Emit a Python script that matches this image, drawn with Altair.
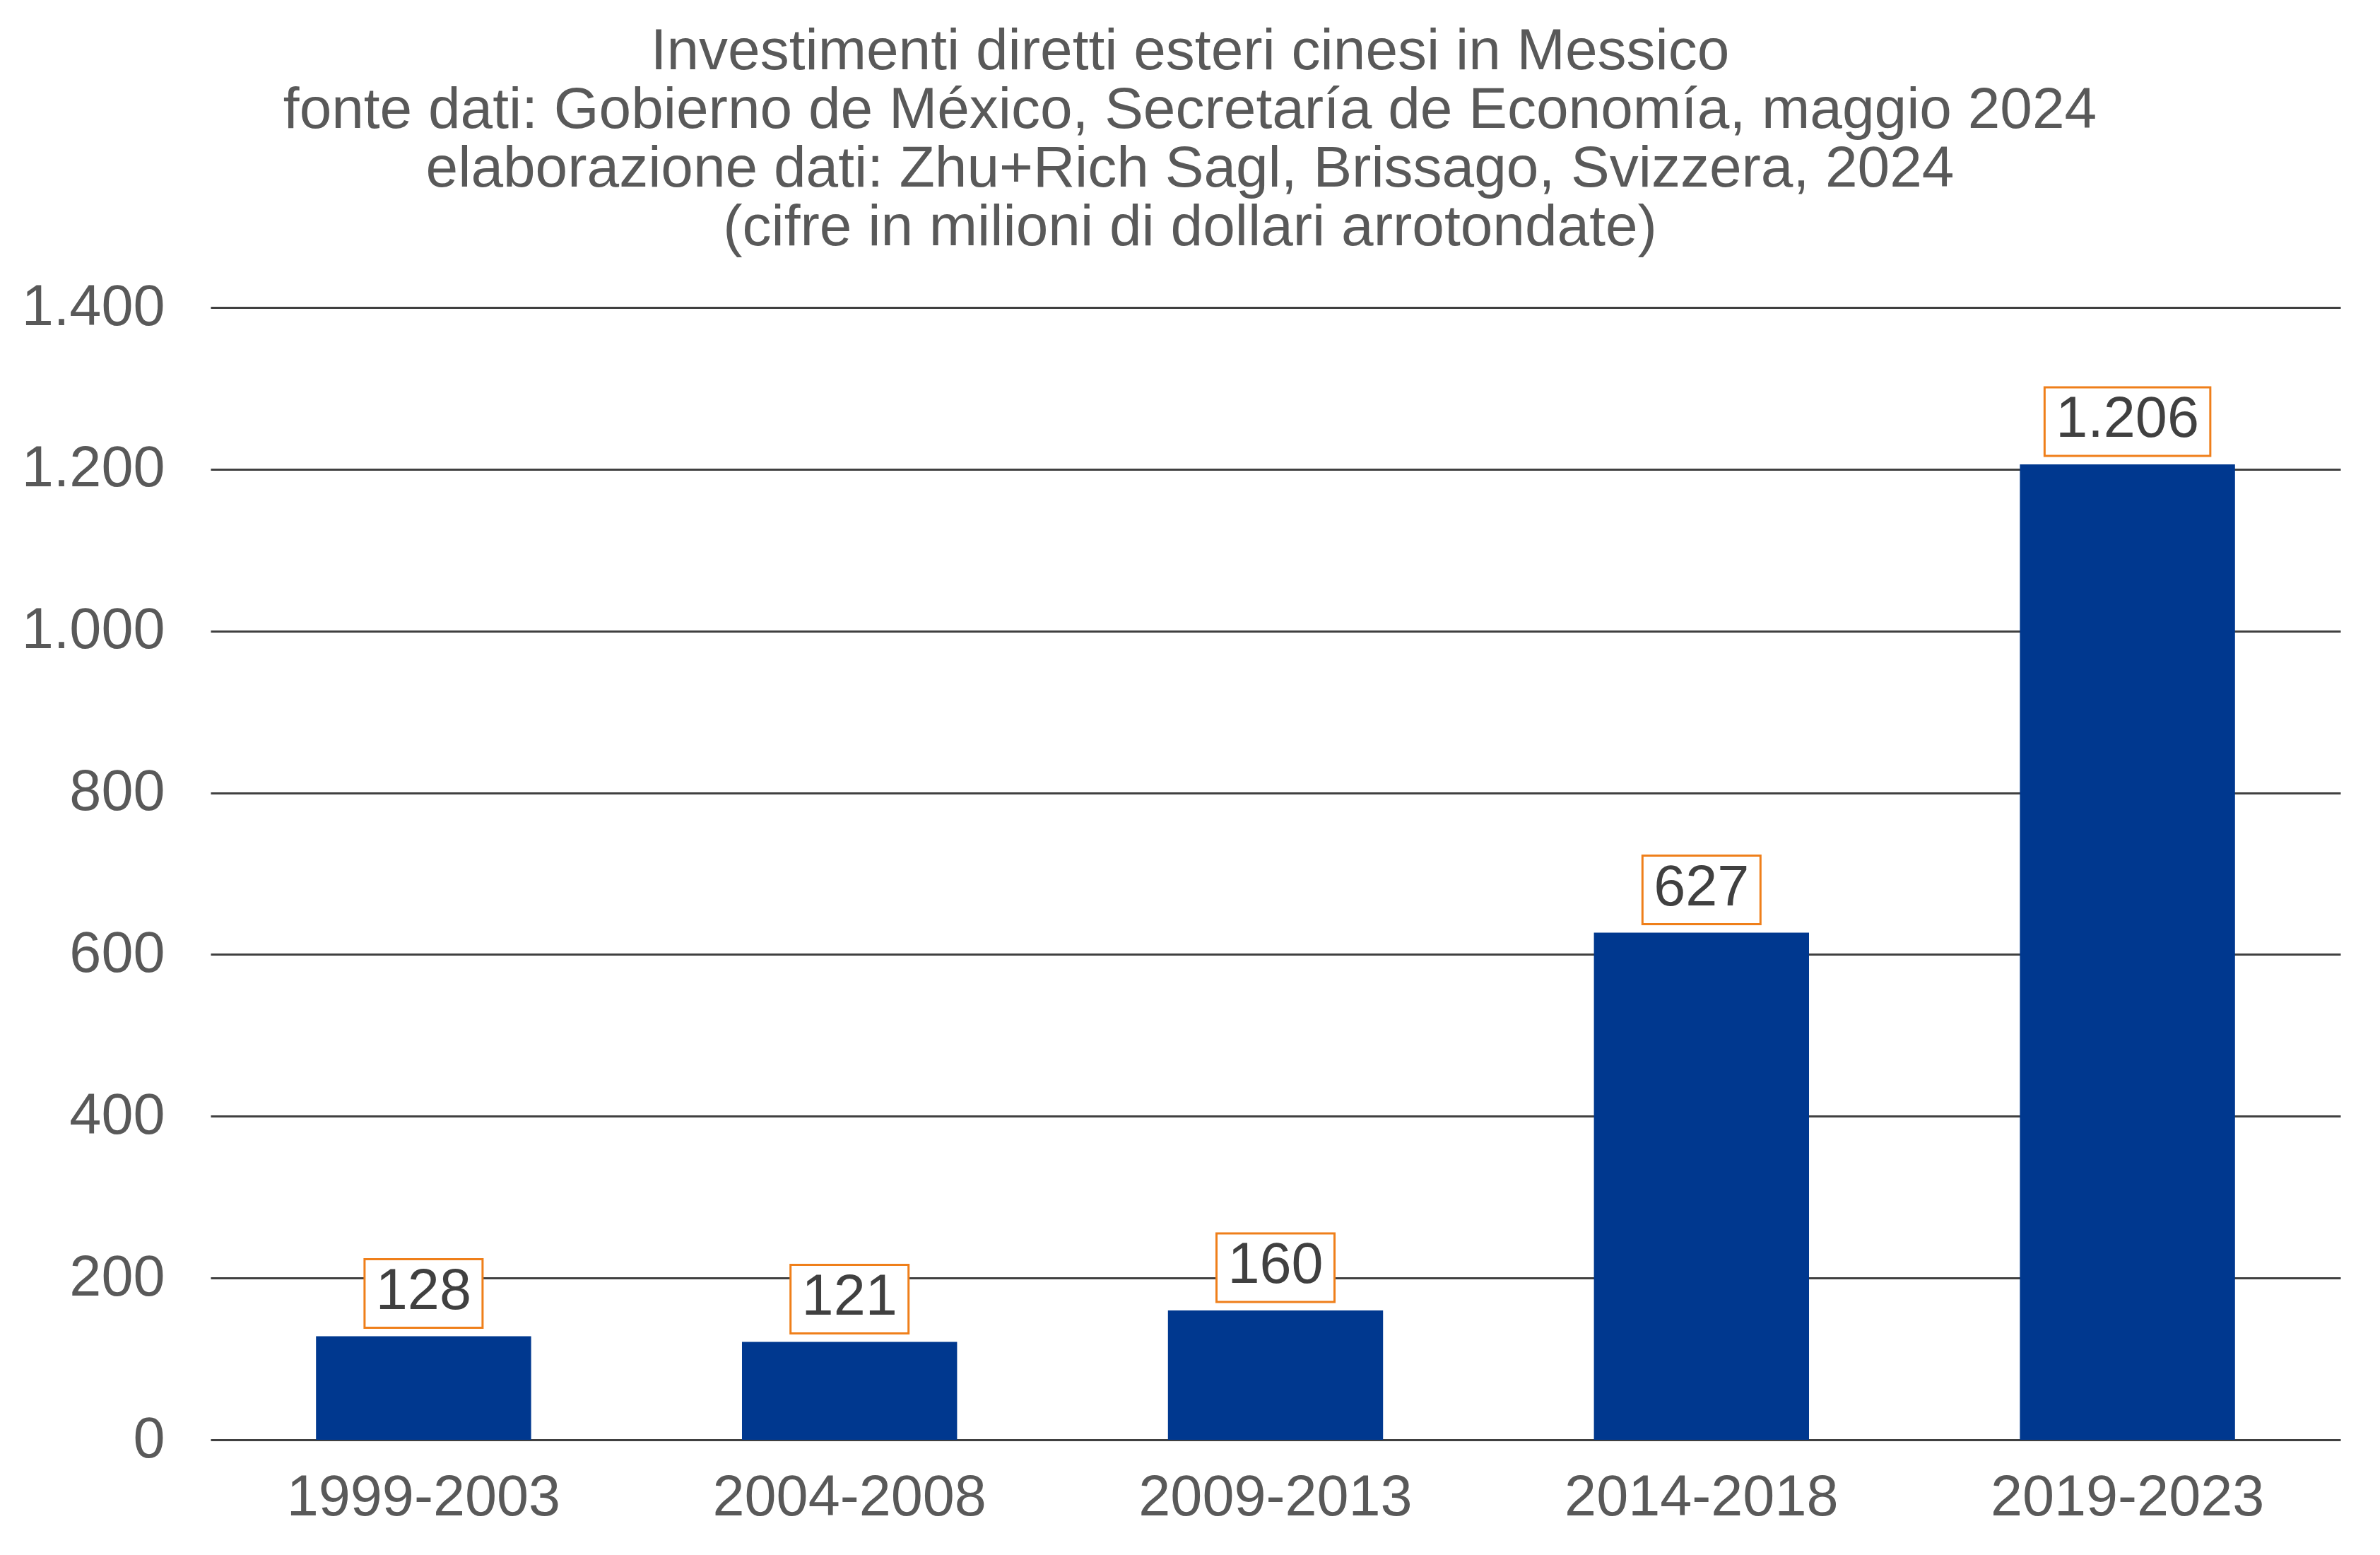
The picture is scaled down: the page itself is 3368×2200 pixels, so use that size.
import altair as alt
import pandas as pd

periods = ["1999-2003", "2004-2008", "2009-2013", "2014-2018", "2019-2023"]
values = [128, 121, 160, 627, 1206]
y_ticks = [0, 200, 400, 600, 800, 1000, 1200, 1400]
title_lines = [
    "Investimenti diretti esteri cinesi in Messico",
    "fonte dati: Gobierno de México, Secretaría de Economía, maggio 2024",
    "elaborazione dati: Zhu+Rich Sagl, Brissago, Svizzera, 2024",
    "(cifre in milioni di dollari arrotondate)",
]

df = pd.DataFrame({"periodo": periods, "valore": values})

FONT = "Liberation Sans"
LABEL_GREY = "#595959"

x_enc = alt.X(
    "periodo:N",
    sort=periods,
    title=None,
    scale=alt.Scale(paddingInner=0.495, paddingOuter=0.2475),
    axis=alt.Axis(
        labelAngle=0,
        labelFontSize=81,
        labelColor=LABEL_GREY,
        labelFont=FONT,
        labelPadding=42,
        labelLimit=0,
        ticks=False,
        domain=False,
        grid=False,
    ),
)
y_enc = alt.Y(
    "valore:Q",
    title=None,
    scale=alt.Scale(domain=[0, 1400], nice=False),
    axis=alt.Axis(
        values=y_ticks,
        labelExpr="replace(format(datum.value, ','), ',', '.')",
        grid=True,
        gridColor="#404040",
        gridWidth=3,
        ticks=False,
        domain=False,
        labelFontSize=81,
        labelColor=LABEL_GREY,
        labelFont=FONT,
        labelPadding=65,
        labelLimit=0,
    ),
)

base = (
    alt.Chart(df)
    .transform_calculate(lab="replace(format(datum.valore, ','), ',', '.')")
    .transform_calculate(
        w="length(replace(datum.lab, '.', '')) * 45 + (indexof(datum.lab, '.') >= 0 ? 22.5 : 0) + 32"
    )
)

bars = base.mark_bar(color="#00388F").encode(x=x_enc, y=y_enc)

boxes = base.mark_rect(
    fill="white",
    stroke="#EF7F1A",
    strokeWidth=3,
    width=alt.ExprRef("datum.w"),
    yOffset=-109,
    y2Offset=-12,
).encode(
    x=alt.X("periodo:N", sort=periods),
    y=alt.Y("valore:Q"),
    y2=alt.Y2("valore"),
)

labels = base.mark_text(
    fontSize=81,
    color="#404040",
    font=FONT,
    baseline="alphabetic",
    dy=-39,
).encode(
    x=alt.X("periodo:N", sort=periods),
    y=alt.Y("valore:Q"),
    text="lab:N",
)

chart = (
    alt.layer(bars, boxes, labels)
    .properties(
        width=3014,
        height=1602,
        padding={"left": 290, "top": 427, "right": 48, "bottom": 155},
        autosize=alt.AutoSizeParams(type="none"),
        title=alt.TitleParams(
            text=title_lines,
            fontSize=82,
            lineHeight=83,
            color=LABEL_GREY,
            font=FONT,
            fontWeight="normal",
            anchor="middle",
            dx=-121,
            offset=30,
        ),
    )
    .configure_view(stroke=None)
)

chart.save("out.html", embed_options={"renderer": "svg", "actions": False})
